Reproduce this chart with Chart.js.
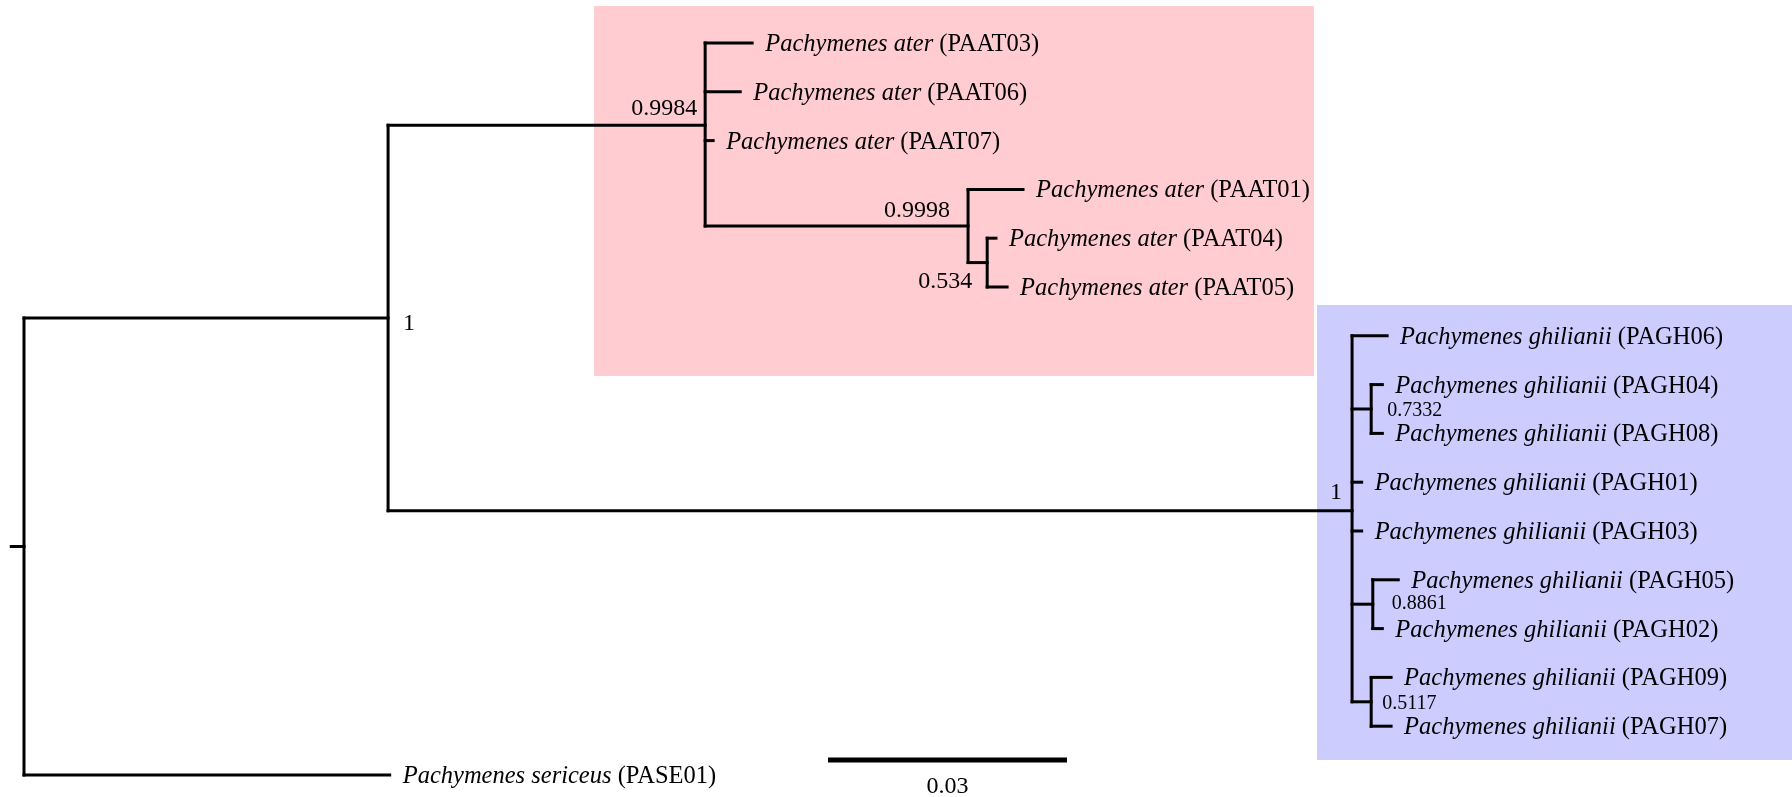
<!DOCTYPE html>
<html>
<head>
<meta charset="utf-8">
<script src="https://cdn.jsdelivr.net/npm/chart.js@4.4.1/dist/chart.umd.min.js"></script>
<style>
  html, body { margin: 0; padding: 0; background: #ffffff; }
  canvas { display: block; }
</style>
</head>
<body>
<canvas id="tree" width="1792" height="797"></canvas>
<script>
// ---- Tips, listed top to bottom ----
const tipCodes = ['PAAT03', 'PAAT06', 'PAAT07', 'PAAT01', 'PAAT04', 'PAAT05',
  'PAGH06', 'PAGH04', 'PAGH08', 'PAGH01', 'PAGH03', 'PAGH05', 'PAGH02', 'PAGH09', 'PAGH07',
  'PASE01'];
const tipSpecies = ['Pachymenes ater', 'Pachymenes ater', 'Pachymenes ater', 'Pachymenes ater',
  'Pachymenes ater', 'Pachymenes ater',
  'Pachymenes ghilianii', 'Pachymenes ghilianii', 'Pachymenes ghilianii', 'Pachymenes ghilianii',
  'Pachymenes ghilianii', 'Pachymenes ghilianii', 'Pachymenes ghilianii', 'Pachymenes ghilianii',
  'Pachymenes ghilianii', 'Pachymenes sericeus'];
const tipParents = ['ater', 'ater', 'ater', 'n9998', 'n534', 'n534',
  'ghil', 'n7332', 'n7332', 'ghil', 'ghil', 'n8861', 'n8861', 'n5117', 'n5117',
  'root'];
const tipLengths = [0.0059, 0.0044, 0.0010, 0.0069, 0.0011, 0.0025,
  0.0044, 0.0014, 0.0014, 0.0012, 0.0012, 0.0032, 0.0012, 0.0025, 0.0025,
  0.0459];

// ---- Internal nodes (parents listed before children) ----
const nodeNames   = ['root', 'nA', 'ater', 'n9998', 'n534', 'ghil', 'n7332', 'n8861', 'n5117'];
const nodeParents = [null, 'root', 'nA', 'ater', 'n9998', 'nA', 'ghil', 'ghil', 'ghil'];
const nodeLengths = [0.0016, 0.0457, 0.0398, 0.0330, 0.0024, 0.1210, 0.0024, 0.0026, 0.0024];
const nodeSupport = [null, '1', '0.9984', '0.9998', '0.534', '1', '0.7332', '0.8861', '0.5117'];

// ---- Scale bar ----
const scaleBarLength = 0.03;
const scaleBarLabel = '0.03';

// ---- Layout / styling (not data) ----
const X_MIN = -0.003012, X_MAX = 0.22192;   // horizontal extent in substitutions/site
const Y_MIN = -0.881, Y_MAX = 15.451;       // vertical extent in tip rows
const scaleBarPos = { x: 0.10092, row: 14.693 };
const highlights = [
  { color: 'rgb(255,204,210)', x0: 0.07155, x1: 0.16192, r0: -0.758, r1: 6.824 },
  { color: 'rgb(204,204,255)', x0: 0.16230, x1: 0.23000, r0: 5.369, r1: 14.693 }
];
const supportStyle = {
  nA:    { align: 'left',  dx: 15,  dy: 12,  size: 24 },
  ater:  { align: 'right', dx: -8,  dy: -10, size: 24 },
  n9998: { align: 'right', dx: -18, dy: -9,  size: 24 },
  n534:  { align: 'right', dx: -15, dy: 25,  size: 24 },
  ghil:  { align: 'right', dx: -10, dy: -12, size: 24 },
  n7332: { align: 'left',  dx: 16,  dy: 7,   size: 20 },
  n8861: { align: 'left',  dx: 19,  dy: 5,   size: 20 },
  n5117: { align: 'left',  dx: 11,  dy: 7,   size: 20 }
};
const FONT = '"Liberation Serif", "Times New Roman", serif';
const TIP_SIZE = 24.5;

// ---- Build tree geometry ----
const depth = {};
nodeNames.forEach((n, i) => {
  depth[n] = nodeParents[i] === null ? 0 : depth[nodeParents[i]] + nodeLengths[i];
});
const tipDepth = tipCodes.map((c, i) => depth[tipParents[i]] + tipLengths[i]);

const children = {};
nodeNames.forEach(n => { children[n] = []; });
nodeNames.forEach((n, i) => { if (nodeParents[i]) children[nodeParents[i]].push({ node: n }); });
tipCodes.forEach((c, i) => children[tipParents[i]].push({ tip: i }));

const nodeY = {};
function yOf(ch) { return ch.tip !== undefined ? ch.tip : computeY(ch.node); }
function computeY(n) {
  if (nodeY[n] !== undefined) return nodeY[n];
  const ys = children[n].map(yOf);
  nodeY[n] = ys.reduce((a, b) => a + b, 0) / ys.length;
  return nodeY[n];
}
computeY('root');

const segments = [];
// root stub
segments.push([{ x: -nodeLengths[0], y: nodeY.root }, { x: 0, y: nodeY.root }]);
// horizontal branches to internal nodes
nodeNames.forEach((n, i) => {
  if (!nodeParents[i]) return;
  segments.push([{ x: depth[nodeParents[i]], y: nodeY[n] }, { x: depth[n], y: nodeY[n] }]);
});
// horizontal branches to tips
tipCodes.forEach((c, i) => {
  segments.push([{ x: depth[tipParents[i]], y: i }, { x: tipDepth[i], y: i }]);
});
// vertical connectors
nodeNames.forEach(n => {
  const ys = children[n].map(yOf);
  segments.push([{ x: depth[n], y: Math.min(...ys) }, { x: depth[n], y: Math.max(...ys) }]);
});

const datasets = segments.map(seg => ({
  data: seg,
  showLine: true,
  borderColor: '#000000',
  borderWidth: 3,
  borderCapStyle: 'square',
  pointRadius: 0,
  clip: false
}));
datasets.push({
  data: [{ x: scaleBarPos.x, y: scaleBarPos.row }, { x: scaleBarPos.x + scaleBarLength, y: scaleBarPos.row }],
  showLine: true,
  borderColor: '#000000',
  borderWidth: 5,
  borderCapStyle: 'butt',
  pointRadius: 0,
  clip: false
});

// ---- Plugins: clade highlights and text ----
const highlightPlugin = {
  id: 'cladeHighlights',
  beforeDatasetsDraw(chart) {
    const { ctx, scales: { x, y } } = chart;
    ctx.save();
    highlights.forEach(h => {
      const px0 = x.getPixelForValue(h.x0), px1 = x.getPixelForValue(h.x1);
      const py0 = y.getPixelForValue(h.r0), py1 = y.getPixelForValue(h.r1);
      ctx.fillStyle = h.color;
      ctx.fillRect(px0, py0, px1 - px0, py1 - py0);
    });
    ctx.restore();
  }
};

const labelPlugin = {
  id: 'treeLabels',
  afterDatasetsDraw(chart) {
    const { ctx, scales: { x, y } } = chart;
    ctx.save();
    ctx.fillStyle = '#000000';
    ctx.textBaseline = 'alphabetic';
    // tip labels: italic species + plain voucher code
    tipCodes.forEach((code, i) => {
      let px = x.getPixelForValue(tipDepth[i]) + 13;
      const py = y.getPixelForValue(i) + 8;
      ctx.textAlign = 'left';
      ctx.font = 'italic ' + TIP_SIZE + 'px ' + FONT;
      ctx.fillText(tipSpecies[i], px, py);
      px += ctx.measureText(tipSpecies[i]).width;
      ctx.font = TIP_SIZE + 'px ' + FONT;
      ctx.fillText(' (' + code + ')', px, py);
    });
    // posterior support values
    nodeNames.forEach((n, i) => {
      if (!nodeSupport[i]) return;
      const s = supportStyle[n];
      ctx.font = s.size + 'px ' + FONT;
      ctx.textAlign = s.align;
      ctx.fillText(nodeSupport[i], x.getPixelForValue(depth[n]) + s.dx, y.getPixelForValue(nodeY[n]) + s.dy);
    });
    // scale bar label
    ctx.font = '24px ' + FONT;
    ctx.textAlign = 'center';
    ctx.fillText(scaleBarLabel,
      x.getPixelForValue(scaleBarPos.x + scaleBarLength / 2),
      y.getPixelForValue(scaleBarPos.row) + 33);
    ctx.restore();
  }
};

new Chart(document.getElementById('tree'), {
  type: 'scatter',
  data: { datasets },
  options: {
    responsive: false,
    animation: false,
    devicePixelRatio: 1,
    layout: { padding: 0 },
    plugins: { legend: { display: false }, tooltip: { enabled: false } },
    scales: {
      x: { type: 'linear', min: X_MIN, max: X_MAX, display: false },
      y: { type: 'linear', min: Y_MIN, max: Y_MAX, reverse: true, display: false }
    }
  },
  plugins: [highlightPlugin, labelPlugin]
});
</script>
</body>
</html>
